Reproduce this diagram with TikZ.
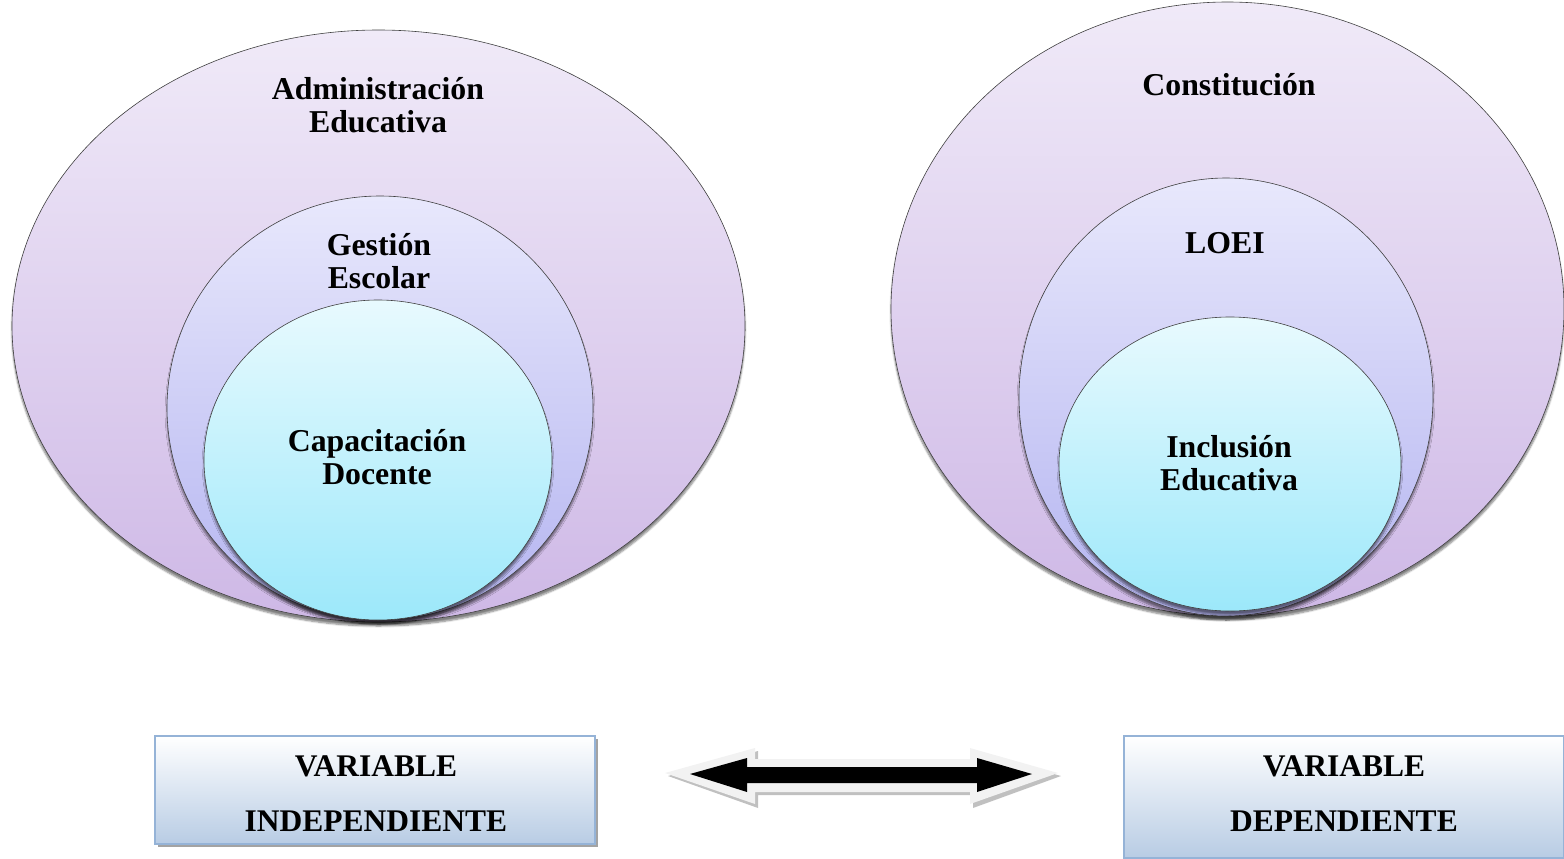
\documentclass[tikz,border=0pt]{standalone}
\usepackage{fontspec}
\setmainfont{Liberation Serif}
\usetikzlibrary{shapes.geometric,shadows,shadows.blur}
\definecolor{outerTop}{RGB}{240,234,248}
\definecolor{outerBot}{RGB}{206,184,230}
\definecolor{midTop}{RGB}{232,232,252}
\definecolor{midBot}{RGB}{180,180,240}
\definecolor{inTop}{RGB}{232,250,254}
\definecolor{inBot}{RGB}{156,232,250}
\definecolor{boxTop}{RGB}{255,255,255}
\definecolor{boxBot}{RGB}{184,204,228}
\definecolor{boxLine}{RGB}{149,179,215}
\definecolor{arrLight}{RGB}{242,242,242}
\definecolor{arrShadow}{RGB}{192,192,192}
\tikzset{
  oval/.style={ellipse, draw=black!75, line width=0.6pt, inner sep=0pt,
    blur shadow={shadow xshift=0pt, shadow yshift=-4pt, shadow blur steps=6, shadow opacity=50}},
  outerov/.style={oval, top color=outerTop, bottom color=outerBot},
  midov/.style={oval, top color=midTop, bottom color=midBot},
  inov/.style={oval, top color=inTop, bottom color=inBot},
  lbl/.style={font=\bfseries\fontsize{31.8}{33}\selectfont, align=center, inner sep=0pt},
  varbox/.style={draw=boxLine, line width=1.2pt, top color=boxTop, bottom color=boxBot,
    drop shadow={shadow xshift=3pt, shadow yshift=-3pt, fill=black!45, opacity=0.8},
    inner sep=0pt},
  vartext/.style={align=center, inner sep=0pt, font=\bfseries\fontsize{31.5}{55}\selectfont},
}
\begin{document}
\begin{tikzpicture}[x=1pt,y=-1pt]
\useasboundingbox (0,0) rectangle (1564,859);
% left group
\node[outerov, minimum width=733pt, minimum height=592pt] (lo) at (378.5,326) {};
\node[midov, minimum width=426pt, minimum height=424pt] (lm) at (380,408) {};
\node[inov, minimum width=348pt, minimum height=320pt] (li) at (378,460) {};
\node[lbl] (t1) at (378,105) {Administración\\Educativa};
\node[lbl] (t2) at (379,261) {Gestión\\Escolar};
\node[lbl] (t3) at (377,457) {Capacitación\\Docente};
% right group
\node[outerov, minimum width=673pt, minimum height=614pt] (ro) at (1227.5,309) {};
\node[midov, minimum width=414pt, minimum height=438pt] (rm) at (1226,397) {};
\node[inov, minimum width=342pt, minimum height=294pt] (ri) at (1230,464) {};
\node[lbl] (t4) at (1229,85) {Constitución};
\node[lbl] (t5) at (1225,243) {LOEI};
\node[lbl] (t6) at (1229,463) {Inclusión\\Educativa};
% boxes
\node[varbox, minimum width=440pt, minimum height=108pt] (vi) at (375,790) {};
\node[vartext] (vit) at (376,794) {VARIABLE\\INDEPENDIENTE};
\node[varbox, minimum width=440pt, minimum height=122pt] (vd) at (1344,797) {};
\node[vartext] (vdt) at (1344,794) {VARIABLE\\DEPENDIENTE};
% double arrow
\coordinate (aL) at (665,773);
\coordinate (aR) at (1058,773);
\fill[arrShadow] ($(aL)+(3,3)$) -- (758,751) -- (758,762) -- (973,762) -- (973,751) -- ($(aR)+(3,3)$) -- (973,808) -- (973,795) -- (758,795) -- (758,808) -- cycle;
\fill[arrLight] (aL) -- (755,748) -- (755,759) -- (970,759) -- (970,748) -- (aR) -- (970,804) -- (970,792) -- (755,792) -- (755,804) -- cycle;
\fill[black] (690,774) -- (747,758) -- (747,767) -- (977,767) -- (977,758) -- (1032,774) -- (977,792) -- (977,783) -- (747,783) -- (747,792) -- cycle;
\end{tikzpicture}
\end{document}
